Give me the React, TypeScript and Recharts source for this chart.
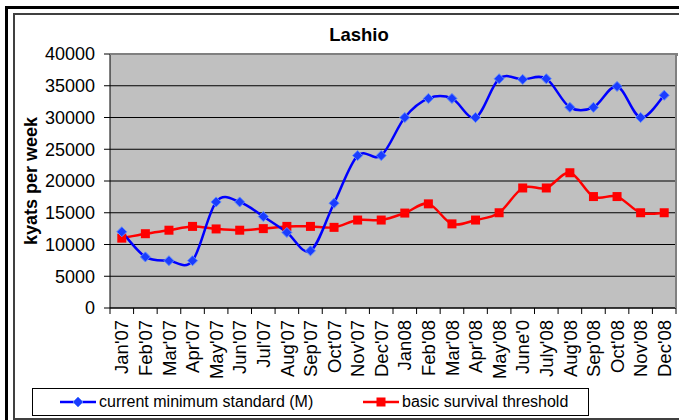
import React from "react";
import {
  LineChart, Line, XAxis, YAxis, CartesianGrid, Legend,
} from "recharts";

const months = [
  "Jan'07", "Feb'07", "Mar'07", "Apr'07", "May'07", "Jun'07", "Jul'07", "Aug'07",
  "Sep'07", "Oct'07", "Nov'07", "Dec'07", "Jan08", "Feb'08", "Mar'08", "Apr'08",
  "May'08", "June'0", "July'08", "Aug'08", "Sep'08", "Oct'08", "Nov'08", "Dec'08",
];
const currentMin = [
  12000, 8050, 7450, 7450, 16700, 16700, 14400, 11900, 9000, 16500, 24000, 24000,
  30000, 33000, 33000, 30000, 36100, 36000, 36100, 31600, 31600, 34900, 30000, 33500,
];
const survival = [
  11000, 11700, 12250, 12850, 12450, 12250, 12500, 12850, 12850, 12700, 13850, 13850,
  14950, 16400, 13250, 13850, 15000, 18900, 18900, 21300, 17550, 17550, 15000, 15000,
];
const yTicks = [0, 5000, 10000, 15000, 20000, 25000, 30000, 35000, 40000];

const data = months.map((m, i) => ({ month: m, current: currentMin[i], survival: survival[i] }));

const FONT = "'Liberation Sans', Arial, sans-serif";
const PLOT_LEFT = 110;
const PLOT_RIGHT = 676;
const BW = (PLOT_RIGHT - PLOT_LEFT) / months.length;

// Excel style smoothed line (catmull-rom through the points)
const excelCurve = (context: any) => {
  let pts: number[][] = [];
  return {
    areaStart() {},
    areaEnd() {},
    lineStart() { pts = []; },
    point(x: number, y: number) { pts.push([x, y]); },
    lineEnd() {
      if (!pts.length) return;
      context.moveTo(pts[0][0], pts[0][1]);
      for (let i = 0; i < pts.length - 1; i++) {
        const p0 = pts[Math.max(i - 1, 0)], p1 = pts[i], p2 = pts[i + 1], p3 = pts[Math.min(i + 2, pts.length - 1)];
        context.bezierCurveTo(
          p1[0] + (p2[0] - p0[0]) / 6, p1[1] + (p2[1] - p0[1]) / 6,
          p2[0] - (p3[0] - p1[0]) / 6, p2[1] - (p3[1] - p1[1]) / 6,
          p2[0], p2[1],
        );
      }
    },
  };
};

const Diamond = ({ cx, cy }: any) => (
  <polygon points={`${cx},${cy - 5} ${cx + 5},${cy} ${cx},${cy + 5} ${cx - 5},${cy}`} fill="#1a3cff" stroke="#5b86ff" strokeWidth={1} />
);
const Square = ({ cx, cy }: any) => (
  <rect x={cx - 4.5} y={cy - 4.5} width={9} height={9} fill="#ff0000" />
);

const MonthTick = ({ x, y, payload, index }: any) => (
  <g>
    <line x1={x - BW / 2} y1={y} x2={x - BW / 2} y2={y + 6} stroke="#000" />
    {index === months.length - 1 && <line x1={x + BW / 2} y1={y} x2={x + BW / 2} y2={y + 6} stroke="#000" />}
    <text x={x} y={y + 12} transform={`rotate(-90 ${x} ${y + 12})`} textAnchor="end" dy="0.36em"
      fontSize={18.5} fontFamily={FONT} fill="#000">{payload.value}</text>
  </g>
);

const LegendBox = () => (
  <div style={{ height: 26, border: "1px solid #000", background: "#fff", display: "flex", alignItems: "center", fontFamily: FONT, fontSize: 16, color: "#000" }}>
    <svg width={36} height={12} style={{ marginLeft: 27 }}>
      <line x1={0} y1={6} x2={36} y2={6} stroke="#0000ff" strokeWidth={2.5} />
      <Diamond cx={18} cy={6} />
    </svg>
    <span style={{ marginLeft: 3, width: 264 }}>current minimum standard (M)</span>
    <svg width={36} height={12}>
      <line x1={0} y1={6} x2={36} y2={6} stroke="#ff0000" strokeWidth={2.5} />
      <Square cx={18} cy={6} />
    </svg>
    <span style={{ marginLeft: 3 }}>basic survival threshold</span>
  </div>
);

export default function App() {
  return (
    <div style={{ position: "fixed", left: 0, top: 0, width: 679, height: 420, background: "#fff", overflow: "hidden" }}>
      <div style={{ position: "absolute", left: 5, top: 6, width: 720, height: 440, border: "3px solid #000" }} />
      <div style={{ position: "absolute", left: 13, top: 13, width: 700, height: 403, border: "2px solid #404040" }} />
      <div style={{ position: "absolute", left: 0, top: 0 }}>
        <LineChart width={679} height={420} data={data} margin={{ top: 54, right: 3, left: 0, bottom: 4 }}>
          <CartesianGrid vertical={false} stroke="#000" fill="#c0c0c0" fillOpacity={1} />
          <XAxis dataKey="month" scale="band" interval={0} height={80} tickSize={0} tickMargin={0}
            tickLine={false} axisLine={{ stroke: "#000" }} tick={<MonthTick />} />
          <YAxis domain={[0, 40000]} ticks={yTicks} width={110} tickSize={6} tickMargin={9}
            axisLine={{ stroke: "#000" }} tickLine={{ stroke: "#000" }}
            tick={{ fontSize: 18, fontFamily: FONT, fill: "#000" }}
            label={{ value: "kyats per week", angle: -90, position: "insideLeft", offset: 0, dx: 31,
              style: { fontSize: 18, fontWeight: "bold", fontFamily: FONT, fill: "#000", textAnchor: "middle" } }} />
          <Legend verticalAlign="bottom" align="left" content={<LegendBox />}
            wrapperStyle={{ left: 32, width: 557 }} />
          <Line dataKey="survival" type={excelCurve as any} stroke="#ff0000" strokeWidth={2.5}
            dot={<Square />} isAnimationActive={false} />
          <Line dataKey="current" type={excelCurve as any} stroke="#0000ff" strokeWidth={2.5}
            dot={<Diamond />} isAnimationActive={false} />
          <text x={359} y={41} textAnchor="middle" fontSize={18.5} fontWeight="bold" fontFamily={FONT} fill="#000">Lashio</text>
        </LineChart>
      </div>
      <div style={{ position: "absolute", left: PLOT_LEFT, top: 53, width: PLOT_RIGHT - PLOT_LEFT, height: 1, borderTop: "2px solid #808080", borderRight: "2px solid #808080" }} />
      <div style={{ position: "absolute", left: PLOT_RIGHT - 1, top: 53, width: 2, height: 255, background: "#808080" }} />
    </div>
  );
}
